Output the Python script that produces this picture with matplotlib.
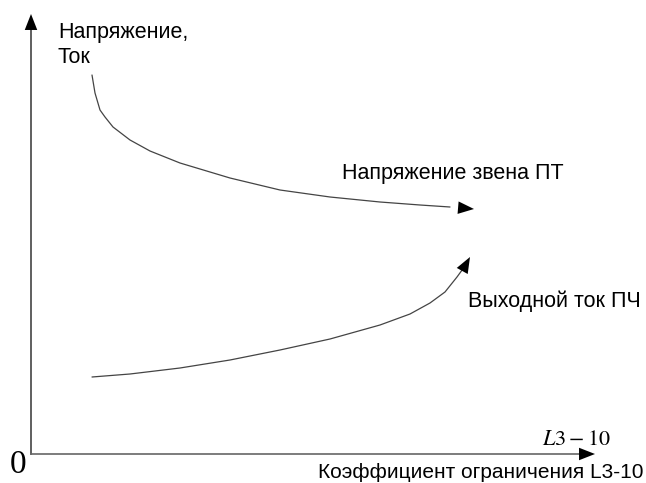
import matplotlib.pyplot as plt

# curve points (origin at the axis corner, units ~ pixels)
volt_x = [61, 64, 69, 74, 82, 99, 119, 149, 199, 249, 299, 349, 389, 419, 443]
volt_y = [379, 361, 344, 337, 327, 314, 303, 291, 276, 264, 257, 252, 249, 247, 245]
curr_x = [61, 99, 149, 199, 249, 299, 349, 379, 399, 414, 426, 434, 439]
curr_y = [77, 80, 86, 94, 104, 115, 129, 140, 151, 162, 177, 188, 197]

plt.rcParams["font.family"] = ["Liberation Sans", "DejaVu Sans"]
plt.rcParams["mathtext.fontset"] = "stix"

fig = plt.figure(figsize=(6.46, 4.83), dpi=100)
ax = fig.add_axes([0, 0, 1, 1])
ax.set_xlim(-31, 615)
ax.set_ylim(-29, 454)
ax.axis("off")

arrow = dict(arrowstyle="-|>,head_length=1.15,head_width=0.45", color="black",
             lw=0, shrinkA=0, shrinkB=0)

# axes
ax.plot([0, 0], [0, 428], color="#444444", lw=1.2)
ax.plot([0, 552], [0, 0], color="#666666", lw=1.2)
ax.annotate("", xy=(0, 440), xytext=(0, 424), arrowprops=arrow)
ax.annotate("", xy=(564, 0), xytext=(548, 0), arrowprops=arrow)

for xs, ys in [(volt_x, volt_y), (curr_x, curr_y)]:
    ax.plot(xs[:-1], ys[:-1], color="#444444", lw=0.9, solid_capstyle="round")
    ax.annotate("", xy=(xs[-1], ys[-1]), xytext=(xs[-2], ys[-2]), arrowprops=arrow)

ax.text(27, 416, "Напряжение,", fontsize=15.5, va="baseline", ha="left")
ax.text(27, 391, "Ток", fontsize=15.5, va="baseline", ha="left")
ax.text(311, 275, "Напряжение звена ПТ", fontsize=15.5, va="baseline", ha="left")
ax.text(437, 147, "Выходной ток ПЧ", fontsize=15.5, va="baseline", ha="left")
ax.text(-21, -19, "0", fontsize=24, family="Liberation Serif", va="baseline", ha="left")
ax.text(511, 9, "$L3-10$", fontsize=16, va="baseline", ha="left")
ax.text(613, -24, "Коэффициент ограничения L3-10", fontsize=15, va="baseline", ha="right")

plt.savefig("out.png", dpi=100)
